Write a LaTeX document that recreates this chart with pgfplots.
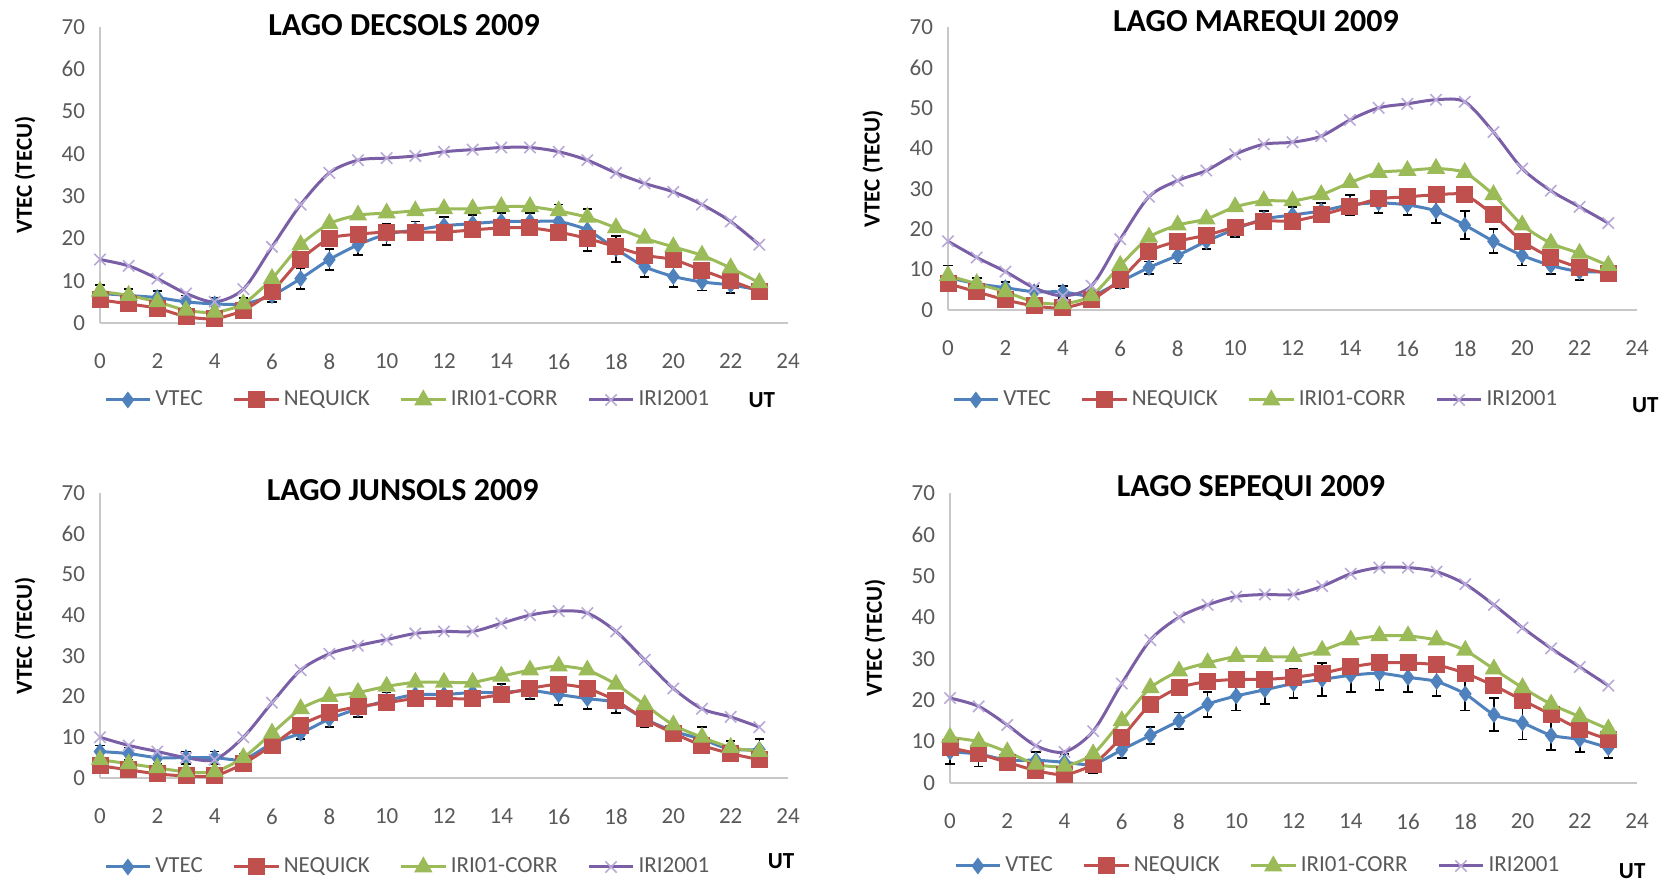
\documentclass[border=0pt]{standalone}
\usepackage{fontspec}
\setmainfont{Carlito}
\usepackage{pgfplots}
\usepackage{pgfplotstable}
\pgfplotsset{compat=1.18}

\definecolor{cvtec}{HTML}{4F81BD}
\definecolor{cneq}{HTML}{C0504D}
\definecolor{ciri01}{HTML}{9BBB59}
\definecolor{ciri}{HTML}{7B5FA6}
\definecolor{cirimark}{HTML}{B9A9D9}
\definecolor{ctick}{HTML}{595959}
\definecolor{caxis}{HTML}{C8C8C8}

% columns: UT, VTEC, VTEC error, NEQUICK, IRI01-CORR, IRI2001
\pgfplotstableread{
x  vtec err neq  iri01 iri
0  7    2   5.5  7.5   15
1  6.5  1.5 4.5  6.5   13.5
2  6    1.5 3.5  5     10.5
3  5    1.5 1.5  3     7
4  4.5  1.5 1    2.5   5
5  4.5  1.5 3    4.5   8
6  6.5  1.5 7.5  10.5  18
7  10.5 2.5 15   18.5  28
8  15   2.5 20   23.5  35.5
9  18.5 2.5 21   25.5  38.5
10 21   2.5 21.5 26    39
11 22   2   21.5 26.5  39.5
12 23   2   21.5 27    40.5
13 23.5 2   22   27    41
14 24   2   22.5 27.5  41.5
15 24   2   22.5 27.5  41.5
16 24   4   21.5 26.5  40.5
17 22   5   20   25    38.5
18 17.5 3   18   22.5  35.5
19 13.3 2.5 16   20    33
20 11   2.5 15   18    31
21 9.7  2   12.5 16    28
22 9    2   10   13    24
23 7.8  2   7.5  9.5   18.5
}\decsols

\pgfplotstableread{
x  vtec err neq  iri01 iri
0  8    3   6.5  8.5   17
1  6.5  1.5 4.5  6.5   13
2  5.5  1.5 2.5  4.5   9.5
3  4.5  1.5 1    2     5.5
4  4.5  1.5 0.5  1.5   3.5
5  3.5  1.5 2.5  3.5   6
6  7    1.5 7.5  11    17.5
7  10.5 1.5 14.5 18    28
8  13.5 2   17   21    32
9  17   2   18.5 22.5  34.5
10 20   2   20.5 25.5  38.5
11 22.5 2   22   27    41
12 23.5 2   22   27    41.5
13 24.5 2   23.5 28.5  43
14 26   2.5 25.5 31.5  47
15 26.5 2.5 27.5 34    50
16 26   2.5 28   34.5  51
17 24.5 3   28.5 35    52
18 21   3.5 28.5 34    51.5
19 17   3   23.5 28.5  44
20 13.5 2.5 17   21    35
21 11   2   13   16.5  29.5
22 9.5  2   10.5 14    25.5
23 9.5  2   9    11    21.5
}\marequi

\pgfplotstableread{
x  vtec err neq  iri01 iri
0  6.5  1.5 3    4.5   10
1  6    1.5 2    3.5   8
2  5    1.5 1    2.5   6.5
3  5    1.5 0.5  1.5   5
4  5    1.5 0.5  1.5   4.5
5  4.5  1.5 3.5  5     10
6  8.5  1.5 8    11    18.5
7  11   1.5 13   17    26.5
8  14.5 2   16   20    30.5
9  17   2   17.5 21    32.5
10 19   2   18.5 22.5  34
11 20.5 2   19.5 23.5  35.5
12 20.5 2   19.5 23.5  36
13 21   2   19.5 23.5  36
14 21   2   20.5 25    38
15 21.5 2   22   26.5  40
16 20.5 2.5 23   27.5  41
17 19.5 2.5 22   26.5  40.5
18 18.5 2.5 19   23    36
19 14.5 2   14.5 18    29
20 11.5 2   11   13    22
21 9.5  3   8    10    17
22 7    2   6    7.5   15
23 7    2.5 4.5  6.5   12.5
}\junsols

\pgfplotstableread{
x  vtec err neq  iri01 iri
0  7.5  3   8.5  11    20.5
1  7    3   7    10    18.5
2  5.5  2   5    7.5   14
3  5.5  2   3    4.5   9
4  5    2   2    4     7.5
5  4.5  2   4.5  7     12.5
6  8    2   11   15    24
7  11.5 2   19   23    34.5
8  15   2   23   27    40
9  19   3   24.5 29    43
10 21   3.5 25   30.5  45
11 22.5 3.5 25   30.5  45.5
12 24   3.5 25.5 30.5  45.5
13 25   4   26.5 32    47.5
14 26   4   28   34.5  50.5
15 26.5 4   29   35.5  52
16 25.5 3.5 29   35.5  52
17 24.5 3.5 28.5 34.5  51
18 21.5 4   26.5 32    48
19 16.5 4   23.5 27.5  43
20 14.5 4   20   23    37.5
21 11.5 3.5 16.5 19    32.5
22 10.5 3   13   16    28
23 8.5  2.5 10.5 13    23.5
}\sepequi

\tikzset{utlab/.style={font=\bfseries\fontsize{11.5}{13}\selectfont, text=black}}

\pgfplotsset{
  lago/.style={
    scale only axis,
    xmin=0, xmax=24, ymin=0, ymax=70,
    xtick={0,2,...,24}, ytick={0,10,...,70},
    axis lines=left,
    axis line style={-, draw=caxis, line width=0.8pt},
    major tick length=0pt,
    tick label style={font=\fontsize{11.5}{13}\selectfont, text=ctick},
    /pgf/number format/assume math mode=true,
    xticklabel style={yshift=-12pt},
    yticklabel style={xshift=-4pt},
    ylabel={VTEC (TECU)},
    ylabel style={at={(axis description cs:-0.109,0.5)}, anchor=center,
      font=\bfseries\fontsize{11.5}{13}\selectfont},
    every axis title shift=0pt,
    title style={anchor=center, font=\bfseries\fontsize{16}{18}\selectfont},
    legend columns=4,
    legend cell align=left,
    legend style={draw=none, fill=none, inner sep=0pt, anchor=west,
      font=\fontsize{11.5}{13}\selectfont, text=ctick,
      /tikz/every even column/.append style={column sep=13pt}},
    legend image code/.code={\draw[mark repeat=2, mark phase=2]
      plot coordinates {(0pt,0pt) (11pt,0pt) (22pt,0pt)};},
    clip=false,
  },
  vtecp/.style={color=cvtec, line width=1.5pt, mark=diamond*, mark size=3pt,
    smooth, tension=0.4,
    error bars/.cd, y dir=both, y explicit,
    error bar style={black, line width=0.8pt},
    error mark options={rotate=90, black, mark size=2.4pt, line width=0.9pt}},
  neqp/.style={color=cneq, line width=1.5pt, mark=square*, mark size=3.5pt, smooth, tension=0.4},
  iri01p/.style={color=ciri01, line width=1.5pt, mark=triangle*, mark size=3.8pt, smooth, tension=0.4},
  irip/.style={color=ciri, line width=1.5pt, mark=x, mark size=4pt, smooth,
    mark options={draw=cirimark, line width=0.8pt}},
}

\newcommand{\lagoplots}[1]{%
  \addplot[vtecp] table[x=x, y=vtec, y error=err] {#1};
  \addplot[neqp] table[x=x, y=neq] {#1};
  \addplot[iri01p] table[x=x, y=iri01] {#1};
  \addplot[irip] table[x=x, y=iri] {#1};
  \legend{VTEC, NEQUICK, IRI01-CORR, IRI2001}
}

\begin{document}
\begin{tikzpicture}
\useasboundingbox (0,0) rectangle (831pt,441.5pt);

\begin{axis}[lago, at={(50pt,280pt)}, anchor=south west, width=344pt, height=148pt,
  title={LAGO DECSOLS 2009}, title style={at={(axis description cs:0.442,1.007)}},
  legend style={at={(axis description cs:0,0)}, yshift=-38.5pt, xshift=2pt}]
\lagoplots{\decsols}
\node[utlab] at (axis description cs:0.962,0) [yshift=-38.5pt] {UT};
\end{axis}

\begin{axis}[lago, at={(474pt,286.5pt)}, anchor=south west, width=344.5pt, height=141.5pt,
  title={LAGO MAREQUI 2009}, title style={at={(axis description cs:0.447,1.014)}},
  legend style={at={(axis description cs:0,0)}, yshift=-45pt, xshift=2pt}]
\lagoplots{\marequi}
\node[utlab] at (axis description cs:1.012,0) [yshift=-47.5pt] {UT};
\end{axis}

\begin{axis}[lago, at={(50pt,52.5pt)}, anchor=south west, width=344pt, height=142.5pt,
  title={LAGO JUNSOLS 2009}, title style={at={(axis description cs:0.44,1.01)}},
  legend style={at={(axis description cs:0,0)}, yshift=-44.5pt, xshift=2pt}]
\lagoplots{\junsols}
\node[utlab] at (axis description cs:0.99,0) [yshift=-41.5pt] {UT};
\end{axis}

\begin{axis}[lago, at={(475pt,50pt)}, anchor=south west, width=343.5pt, height=145pt,
  title={LAGO SEPEQUI 2009}, title style={at={(axis description cs:0.438,1.017)}},
  legend style={at={(axis description cs:0,0)}, yshift=-41.5pt, xshift=2pt}]
\lagoplots{\sepequi}
\node[utlab] at (axis description cs:0.993,0) [yshift=-44pt] {UT};
\end{axis}
\end{tikzpicture}
\end{document}
